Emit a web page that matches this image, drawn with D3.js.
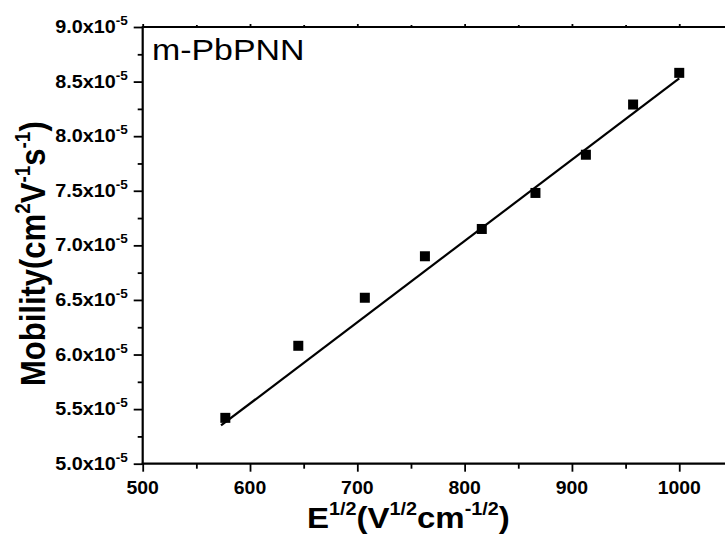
<!DOCTYPE html>
<html>
<head>
<meta charset="utf-8">
<script src="https://cdn.jsdelivr.net/npm/d3@7"></script>
<style>
  html, body { margin: 0; padding: 0; background: #fff; }
  svg { display: block; }
  text { font-family: Arial, "Liberation Sans", sans-serif; fill: #000; }
</style>
</head>
<body>
<script>
// ---- data (mobility in units of 1e-5 cm^2 V^-1 s^-1) ----
const fieldSqrt = [577, 645, 707, 763, 816, 866, 913, 957, 1000];
const mobility  = [5.42, 6.08, 6.52, 6.90, 7.15, 7.48, 7.83, 8.29, 8.58];
const fitX = [573, 1000];
const fitY = [5.35, 8.53];
const xTicks = [500, 600, 700, 800, 900, 1000];
const yTicks = [5.0, 5.5, 6.0, 6.5, 7.0, 7.5, 8.0, 8.5, 9.0];
const sampleLabel = "m-PbPNN";

(function () {
const W = 725, H = 537;
const svg = d3.select("body").append("svg").attr("width", W).attr("height", H);

const x = d3.scaleLinear().domain([500, 1050]).range([142.7, 732.9]);
const y = d3.scaleLinear().domain([5.0, 9.0]).range([463.7, 27]);

const SX = 1.13; // horizontal text stretch of the original

const xMinor = d3.range(550, 1050, 100);
const yMinor = d3.range(5.25, 9.0, 0.5);

const gBottom = svg.append("g").attr("transform", `translate(0,${y(5.0)})`)
  .call(d3.axisBottom(x).tickValues(xTicks).tickSize(8).tickFormat(""));
gBottom.append("g").call(d3.axisBottom(x).tickValues(xMinor).tickSize(5).tickFormat(""));
const gTop = svg.append("g").attr("transform", `translate(0,${y(9.0)})`)
  .call(d3.axisTop(x).tickValues(xTicks).tickSize(3).tickFormat(""));
gTop.append("g").call(d3.axisTop(x).tickValues(xMinor).tickSize(2).tickFormat(""));
const gLeft = svg.append("g").attr("transform", `translate(${x(500)},0)`)
  .call(d3.axisLeft(y).tickValues(yTicks).tickSize(9).tickFormat(""));
gLeft.append("g").call(d3.axisLeft(y).tickValues(yMinor).tickSize(5).tickFormat(""));

svg.selectAll(".domain").attr("stroke", "none");
svg.selectAll(".tick line").attr("stroke", "#000").attr("stroke-width", 1.8);
gBottom.append("line").attr("x1", x(500) - 1).attr("x2", x(1050)).attr("stroke", "#000").attr("stroke-width", 2.2);
gTop.append("line").attr("x1", x(500) - 1).attr("x2", x(1050)).attr("stroke", "#000").attr("stroke-width", 2.2);
gLeft.append("line").attr("y1", y(5.0)).attr("y2", y(9.0)).attr("stroke", "#000").attr("stroke-width", 2.2);

// x tick labels
svg.append("g").selectAll("text").data(xTicks).join("text")
  .attr("transform", d => `translate(${x(d)},${y(5.0) + 30}) scale(1.08,1)`)
  .attr("text-anchor", "middle")
  .attr("font-size", 18).attr("font-weight", "bold")
  .text(d => d);

// y tick labels: "9.0x10" with superscript "-5"
const yl = svg.append("g").selectAll("text").data(yTicks).join("text")
  .attr("transform", d => `translate(${x(500) - 15},${y(d) + 6}) scale(${SX},1)`)
  .attr("text-anchor", "end")
  .attr("font-size", 17.5).attr("font-weight", "bold");
yl.append("tspan").text(d => d.toFixed(1) + "x10");
yl.append("tspan").attr("font-size", 12).attr("dy", -8).text("-5");

// fit line
svg.append("path")
  .attr("d", d3.line().x(d => x(d[0])).y(d => y(d[1]))(fitX.map((v, i) => [v, fitY[i]])))
  .attr("fill", "none").attr("stroke", "#000").attr("stroke-width", 2.2);

// points
svg.append("g").selectAll("rect").data(fieldSqrt.map((v, i) => [v, mobility[i]])).join("rect")
  .attr("x", d => x(d[0]) - 5).attr("y", d => y(d[1]) - 5)
  .attr("width", 10).attr("height", 10).attr("fill", "#000");

// sample label
svg.append("text")
  .attr("transform", `translate(152,60) scale(${SX},1)`)
  .attr("font-size", 30)
  .text(sampleLabel);

// x axis title
const xt = svg.append("text")
  .attr("transform", `translate(307,528) scale(1.1,1)`)
  .attr("font-size", 30).attr("font-weight", "bold");
xt.append("tspan").text("E");
xt.append("tspan").attr("font-size", 18).attr("dy", -13).text("1/2");
xt.append("tspan").attr("dy", 13).text("(V");
xt.append("tspan").attr("font-size", 18).attr("dy", -13).text("1/2");
xt.append("tspan").attr("dy", 13).text("cm");
xt.append("tspan").attr("font-size", 18).attr("dy", -13).text("-1/2");
xt.append("tspan").attr("dy", 13).text(")");

// y axis title
const ytt = svg.append("text")
  .attr("transform", `translate(45,386) rotate(-90) scale(1,${SX})`)
  .attr("font-size", 31).attr("font-weight", "bold");
ytt.append("tspan").text("Mobility(cm");
ytt.append("tspan").attr("font-size", 19).attr("dy", -13).text("2");
ytt.append("tspan").attr("dy", 13).text("V");
ytt.append("tspan").attr("font-size", 19).attr("dy", -13).text("-1");
ytt.append("tspan").attr("dy", 13).text("s");
ytt.append("tspan").attr("font-size", 19).attr("dy", -13).text("-1");
ytt.append("tspan").attr("dy", 13).text(")");
})();
</script>
</body>
</html>
